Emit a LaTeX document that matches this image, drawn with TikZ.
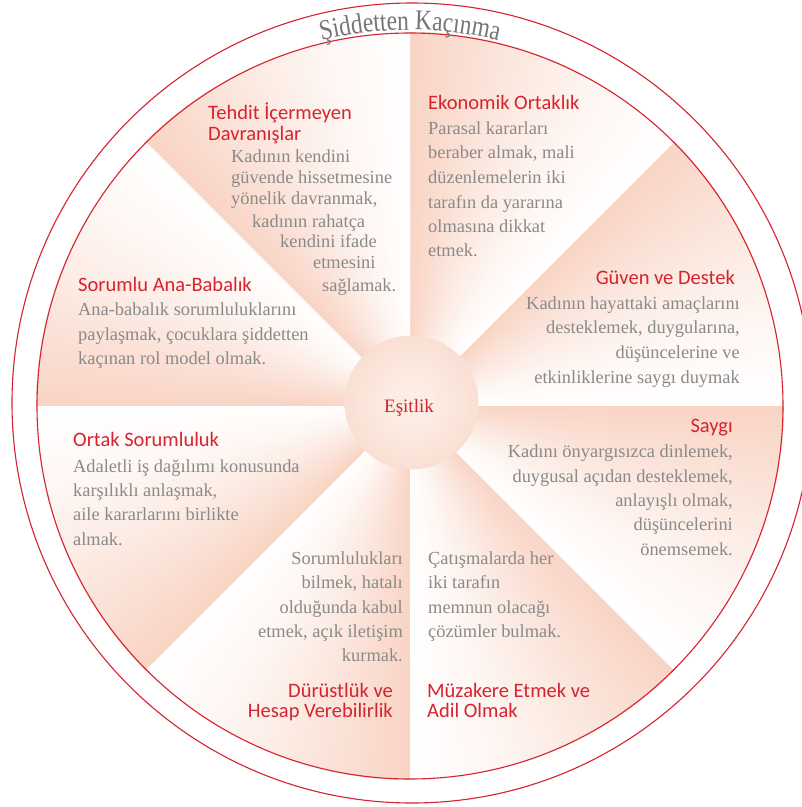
\documentclass[tikz,border=0pt]{standalone}
\usepackage{fontspec}
\setmainfont{Liberation Serif}
\newfontfamily\titlefnt{Carlito}
\newfontfamily\ringfont[FakeStretch=0.82]{Liberation Serif}
\usetikzlibrary{decorations.text}
\definecolor{myred}{RGB}{214,35,48}
\definecolor{mygray}{RGB}{138,138,138}
\definecolor{ringgray}{RGB}{118,118,118}
\definecolor{mypink}{RGB}{249,212,196}
\definecolor{hubpink}{RGB}{247,204,186}
\definecolor{hubcore}{RGB}{252,236,228}
\pgfdeclareradialshading{hubshade}{\pgfpoint{0bp}{0bp}}{color(0bp)=(hubcore); color(8bp)=(hubcore); color(50bp)=(hubpink); color(100bp)=(hubpink)}
\newcommand\bodyfnt{\fontsize{18.4}{22}\selectfont}
\newcommand\headfnt{\titlefnt\fontsize{20.5}{22}\selectfont}
\newcommand\ringfnt{\ringfont\fontsize{28.5}{30}\selectfont}
\tikzset{
  bodyL/.style={font=\bodyfnt, text=mygray, inner sep=0pt, anchor=base west},
  bodyR/.style={font=\bodyfnt, text=mygray, inner sep=0pt, anchor=base east},
  headL/.style={font=\headfnt, text=myred, inner sep=0pt, anchor=base west},
  headR/.style={font=\headfnt, text=myred, inner sep=0pt, anchor=base east},
  ringline/.style={draw=myred, line width=1.1pt},
}
\begin{document}
\begin{tikzpicture}[x=1pt,y=-1pt]
\useasboundingbox (0,0) rectangle (802,807);
\fill[white] (0,0) rectangle (802,807);
% sectors with angular gradient
\foreach \k in {0,...,7}{
  \foreach \i in {0,...,39}{
    \pgfmathsetmacro\aa{45*\k+45*\i/40}
    \pgfmathsetmacro\ab{min(\aa+45/40+0.4,45*(\k+1))}
    \pgfmathsetmacro\am{(\aa+\ab)/2}
    \pgfmathsetmacro\pc{100*((\i+0.5)/40)^1.3}
    \fill[mypink!\pc!white] (410,406) -- ({410+374*cos(\aa)},{406-374*sin(\aa)})
      -- ({410+374*cos(\am)},{406-374*sin(\am)})
      -- ({410+374*cos(\ab)},{406-374*sin(\ab)}) -- cycle;
  }
}
\draw[ringline] (410,406) circle[radius=373];
\draw[ringline] (412,403) circle[radius=400];
% ring title
\path[decorate, decoration={text along path, text align=center,
   text={|\ringfnt\color{ringgray}|Şiddetten Kaçınma}}]
   (410,406) ++(-120:376) arc[start angle=-120, end angle=-60, radius=376];
% hub
\node[circle, minimum size=134pt, inner sep=0pt, shading=hubshade] (hub) at (411.5,402.5) {};
\node[font=\fontsize{19}{20}\selectfont, text=myred, inner sep=0pt, anchor=base] (hubtext) at (409,412) {Eşitlik};

% Tehdit
\node[headL] (t1) at (208,119) {Tehdit İçermeyen};
\node[headL] (t2) at (208,140) {Davranışlar};
\node[bodyL] (t3) at (231,162) {Kadının kendini};
\node[bodyL] (t4) at (231,183) {güvende hissetmesine};
\node[bodyL] (t5) at (231,204) {yönelik davranmak,};
\node[bodyL] (t6) at (252,227) {kadının rahatça};
\node[bodyL] (t7) at (280,247) {kendini ifade};
\node[bodyL] (t8) at (313,268) {etmesini};
\node[bodyL] (t9) at (322,291) {sağlamak.};

% Ekonomik
\node[headL] (e1) at (428,109) {Ekonomik Ortaklık};
\node[bodyL] (e2) at (428,134) {Parasal kararları};
\node[bodyL] (e3) at (428,158) {beraber almak, mali};
\node[bodyL] (e4) at (428,183) {düzenlemelerin iki};
\node[bodyL] (e5) at (428,208) {tarafın da yararına};
\node[bodyL] (e6) at (428,232) {olmasına dikkat};
\node[bodyL] (e7) at (428,256) {etmek.};

% Sorumlu Ana-Babalik
\node[headL] (s1) at (78,291) {Sorumlu Ana-Babalık};
\node[bodyL] (s2) at (78,315) {Ana-babalık sorumluluklarını};
\node[bodyL] (s3) at (78,340) {paylaşmak, çocuklara şiddetten};
\node[bodyL] (s4) at (78,364) {kaçınan rol model olmak.};

% Guven
\node[headR] (g1) at (735,284) {Güven ve Destek};
\node[bodyR] (g2) at (740,309) {Kadının hayattaki amaçlarını};
\node[bodyR] (g3) at (740,333) {desteklemek, duygularına,};
\node[bodyR] (g4) at (740,358) {düşüncelerine ve};
\node[bodyR] (g5) at (740,383) {etkinliklerine saygı duymak};

% Ortak
\node[headL] (o1) at (73,446) {Ortak Sorumluluk};
\node[bodyL] (o2) at (73,472) {Adaletli iş dağılımı konusunda};
\node[bodyL] (o3) at (73,496) {karşılıklı anlaşmak,};
\node[bodyL] (o4) at (73,520) {aile kararlarını birlikte};
\node[bodyL] (o5) at (73,545) {almak.};

% Saygi
\node[headR] (y1) at (733,432) {Saygı};
\node[bodyR] (y2) at (733,457) {Kadını önyargısızca dinlemek,};
\node[bodyR] (y3) at (733,482) {duygusal açıdan desteklemek,};
\node[bodyR] (y4) at (733,506) {anlayışlı olmak,};
\node[bodyR] (y5) at (733,530) {düşüncelerini};
\node[bodyR] (y6) at (733,555) {önemsemek.};

% Durustluk
\node[bodyR] (d1) at (403,564) {Sorumlulukları};
\node[bodyR] (d2) at (403,588) {bilmek, hatalı};
\node[bodyR] (d3) at (403,613) {olduğunda kabul};
\node[bodyR] (d4) at (403,637) {etmek, açık iletişim};
\node[bodyR] (d5) at (403,661) {kurmak.};
\node[headR] (d6) at (393,697) {Dürüstlük ve};
\node[headR] (d7) at (393,717) {Hesap Verebilirlik};

% Muzakere
\node[bodyL] (m1) at (428,564) {Çatışmalarda her};
\node[bodyL] (m2) at (428,588) {iki tarafın};
\node[bodyL] (m3) at (428,613) {memnun olacağı};
\node[bodyL] (m4) at (428,637) {çözümler bulmak.};
\node[headL] (m5) at (427,697) {Müzakere Etmek ve};
\node[headL] (m6) at (427,717) {Adil Olmak};
\end{tikzpicture}
\end{document}
